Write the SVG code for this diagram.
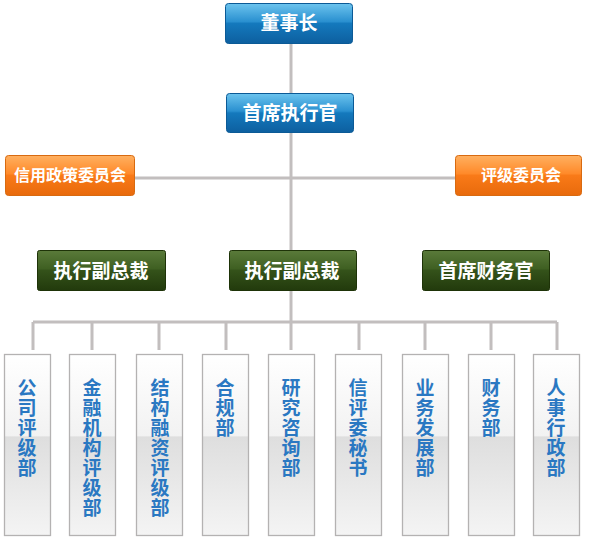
<svg xmlns="http://www.w3.org/2000/svg" width="591" height="538" viewBox="0 0 591 538">
<defs>
<linearGradient id="gBlue" x1="0" y1="0" x2="0" y2="1">
<stop offset="0" stop-color="#6cc4ee"/><stop offset="0.45" stop-color="#2a90d0"/><stop offset="0.5" stop-color="#1479bd"/><stop offset="1" stop-color="#0d5f9f"/>
</linearGradient>
<linearGradient id="gOrange" x1="0" y1="0" x2="0" y2="1">
<stop offset="0" stop-color="#ffb060"/><stop offset="0.45" stop-color="#ff8a2a"/><stop offset="0.5" stop-color="#f97a18"/><stop offset="1" stop-color="#e86a0c"/>
</linearGradient>
<linearGradient id="gGreen" x1="0" y1="0" x2="0" y2="1">
<stop offset="0" stop-color="#5a7a3a"/><stop offset="0.45" stop-color="#3f6022"/><stop offset="0.5" stop-color="#34521a"/><stop offset="1" stop-color="#223a0c"/>
</linearGradient>
<linearGradient id="gDept" x1="0" y1="0" x2="0" y2="1">
<stop offset="0" stop-color="#ffffff"/><stop offset="0.45" stop-color="#f2f2f2"/><stop offset="0.455" stop-color="#dedede"/><stop offset="1" stop-color="#f4f4f4"/>
</linearGradient>
<style>
.btn text{font-family:"Noto Sans CJK SC","Noto Sans CJK JP",sans-serif;font-weight:700;fill:#ffffff;text-anchor:middle}
.blue rect{fill:url(#gBlue);stroke:#0b5a96;stroke-width:1}
.orange rect{fill:url(#gOrange);stroke:#d86a10;stroke-width:1}
.green rect{fill:url(#gGreen);stroke:#1e3308;stroke-width:1}
.dept rect{fill:url(#gDept);stroke:#b4b2b2;stroke-width:1.3}
.dept text{font-family:"Noto Sans CJK SC","Noto Sans CJK JP",sans-serif;font-weight:700;font-size:19px;fill:#2a78c2;text-anchor:middle}
.conn{stroke:#c2bebe;stroke-width:3;fill:none}
</style>
</defs>
<rect width="591" height="538" fill="#ffffff"/>
<g id="connectors" class="conn">
<path d="M291 43V93"/>
<path d="M291 132V250"/>
<path d="M135 178H455"/>
<path d="M291 291V322"/>
<path d="M33 322H557"/>
<path d="M33 322V350M92 322V350M159 322V350M226 322V350M291 322V350M359 322V350M425 322V350M491 322V350M557 322V350"/>
</g>
<g id="n_chairman" class="btn blue"><rect x="225.5" y="3.5" width="127" height="40" rx="3"/><text x="289" y="30" font-size="19">董事长</text></g>
<g id="n_ceo" class="btn blue"><rect x="226.5" y="93.5" width="127" height="39" rx="3"/><text x="290" y="120" font-size="19">首席执行官</text></g>
<g id="n_credit_policy" class="btn orange"><rect x="5.5" y="155.5" width="129" height="40" rx="3"/><text x="70" y="181" font-size="16">信用政策委员会</text></g>
<g id="n_rating_committee" class="btn orange"><rect x="455.5" y="155.5" width="126" height="40" rx="3"/><text x="521" y="181" font-size="16">评级委员会</text></g>
<g id="n_evp1" class="btn green"><rect x="37.5" y="250.5" width="128" height="40" rx="2"/><text x="101" y="278" font-size="19">执行副总裁</text></g>
<g id="n_evp2" class="btn green"><rect x="229.5" y="250.5" width="127" height="40" rx="2"/><text x="292" y="278" font-size="19">执行副总裁</text></g>
<g id="n_cfo" class="btn green"><rect x="422.5" y="250.5" width="127" height="40" rx="2"/><text x="486" y="278" font-size="19">首席财务官</text></g>
<g id="d1" class="dept"><rect x="4.5" y="354.5" width="46" height="181"/><text x="27" y="395">公</text><text x="27" y="415">司</text><text x="27" y="435">评</text><text x="27" y="455">级</text><text x="27" y="475">部</text></g>
<g id="d2" class="dept"><rect x="69.5" y="354.5" width="46" height="181"/><text x="92" y="395">金</text><text x="92" y="415">融</text><text x="92" y="435">机</text><text x="92" y="455">构</text><text x="92" y="475">评</text><text x="92" y="495">级</text><text x="92" y="515">部</text></g>
<g id="d3" class="dept"><rect x="136.5" y="354.5" width="46" height="181"/><text x="160" y="395">结</text><text x="160" y="415">构</text><text x="160" y="435">融</text><text x="160" y="455">资</text><text x="160" y="475">评</text><text x="160" y="495">级</text><text x="160" y="515">部</text></g>
<g id="d4" class="dept"><rect x="202.5" y="354.5" width="46" height="181"/><text x="225" y="395">合</text><text x="225" y="415">规</text><text x="225" y="435">部</text></g>
<g id="d5" class="dept"><rect x="268.5" y="354.5" width="46" height="181"/><text x="291" y="395">研</text><text x="291" y="415">究</text><text x="291" y="435">咨</text><text x="291" y="455">询</text><text x="291" y="475">部</text></g>
<g id="d6" class="dept"><rect x="335.5" y="354.5" width="46" height="181"/><text x="358" y="395">信</text><text x="358" y="415">评</text><text x="358" y="435">委</text><text x="358" y="455">秘</text><text x="358" y="475">书</text></g>
<g id="d7" class="dept"><rect x="402.5" y="354.5" width="46" height="181"/><text x="425" y="395">业</text><text x="425" y="415">务</text><text x="425" y="435">发</text><text x="425" y="455">展</text><text x="425" y="475">部</text></g>
<g id="d8" class="dept"><rect x="468.5" y="354.5" width="46" height="181"/><text x="491" y="395">财</text><text x="491" y="415">务</text><text x="491" y="435">部</text></g>
<g id="d9" class="dept"><rect x="533.5" y="354.5" width="46" height="181"/><text x="556" y="395">人</text><text x="556" y="415">事</text><text x="556" y="435">行</text><text x="556" y="455">政</text><text x="556" y="475">部</text></g>
</svg>
